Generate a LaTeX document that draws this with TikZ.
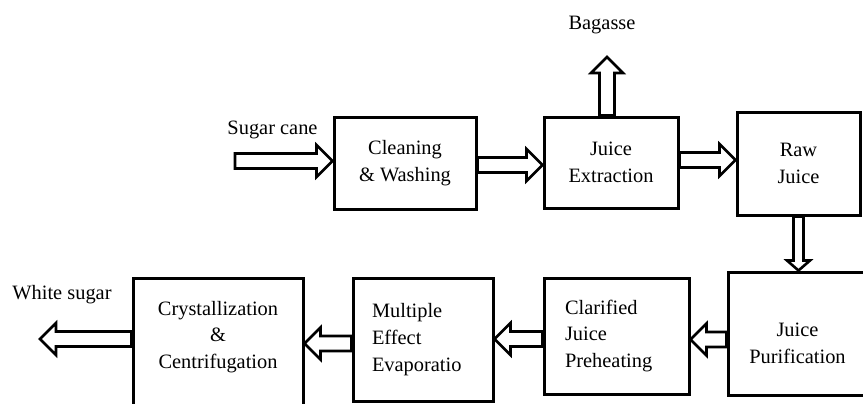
\documentclass[tikz,border=0pt]{standalone}
\usepackage{fontspec}
\setmainfont{Liberation Serif}
\usetikzlibrary{calc}

\tikzset{
  stage/.style={draw, line width=1.5pt, align=center, font=\fontsize{10.2pt}{13.4pt}\selectfont},
  flow/.style={draw, line width=1.3pt, line join=miter},
  tag/.style={inner sep=0pt, font=\fontsize{10.2pt}{13.4pt}\selectfont}
}

% half shaft width, half head width, head length
\newcommand\shw{3.75pt}
\newcommand\hdw{8pt}
\newcommand\hdl{8pt}
\newcommand\hollowarrow[2]{%
  \draw[flow] ($(#1)!\shw!90:(#2)$)
    -- ($(#2)!\hdl!(#1)!\shw!-90:(#1)$)
    -- ($(#2)!\hdl!(#1)!\hdw!-90:(#1)$)
    -- (#2)
    -- ($(#2)!\hdl!(#1)!\hdw!90:(#1)$)
    -- ($(#2)!\hdl!(#1)!\shw!90:(#1)$)
    -- ($(#1)!\shw!-90:(#2)$) -- cycle;}

\begin{document}
\begin{tikzpicture}[x=0.5pt,y=-0.5pt]
	\useasboundingbox (0,0) rectangle (863,403);
	\clip (0,0) rectangle (863,403);

	% top row
	\node[stage, minimum width=71pt, minimum height=46pt] (clean) at (405,163) {Cleaning\\ \& Washing};
	\node[stage, minimum width=67pt, minimum height=45.5pt] (extr) at (611,162.5) {Juice\\ Extraction};
	\node[stage, minimum width=61.5pt, minimum height=51.5pt] (raw) at (798.5,163.5) {Raw\\ Juice};

	% bottom row
	\node[stage, minimum width=69.5pt, minimum height=61.5pt] (pur) at (797.5,333.5) {};
	\node[tag, align=center] (purtxt) at ([yshift=-4.75pt]pur.center) {Juice\\ Purification};
	\node[stage, align=left, text width=51.5pt, inner xsep=10.5pt, minimum height=58pt] (clar) at (616.5,336) {Clarified\\ Juice\\ Preheating};
	\node[stage, align=left, text width=51pt, inner xsep=9.5pt, minimum height=61.5pt] (multi) at (423,339.5) {Multiple\\ Effect\\ Evaporatio};
	\node[stage, minimum width=85pt, minimum height=67pt] (cryst) at (218,345) {};
	\node[tag, align=center] (crysttxt) at ([yshift=4pt]cryst.center) {Crystallization\\ \&\\ Centrifugation};

	% inputs and outputs
	\node[tag] (cane) at (272.5,130) {Sugar cane};
	\node[tag] (bagasse) at (602,25) {Bagasse};
	\node[tag] (white) at (62,295) {White sugar};
	\coordinate (canein) at (235,161);
	\coordinate (bagout) at (607,57);
	\coordinate (sugarout) at (40,339);

	\hollowarrow{canein}{[yshift=1pt]clean.west}
	\hollowarrow{[yshift=-1pt]clean.east}{[yshift=-1.25pt]extr.west}
	\hollowarrow{[xshift=-2pt]extr.north}{bagout}
	\hollowarrow{[yshift=1.25pt]extr.east}{[yshift=1.75pt]raw.west}
	{\renewcommand\shw{2.5pt}\renewcommand\hdw{5.75pt}\renewcommand\hdl{5pt}
	\hollowarrow{raw.south}{raw.south |- pur.north}}
	\hollowarrow{[yshift=-3pt]pur.west}{[yshift=-1.75pt]clar.east}
	\hollowarrow{[yshift=-1.5pt]clar.west}{[yshift=0.25pt]multi.east}
	\hollowarrow{[yshift=-2pt]multi.west}{[yshift=0.75pt]cryst.east}
	\hollowarrow{[yshift=3pt]cryst.west}{sugarout}
\end{tikzpicture}
\end{document}
